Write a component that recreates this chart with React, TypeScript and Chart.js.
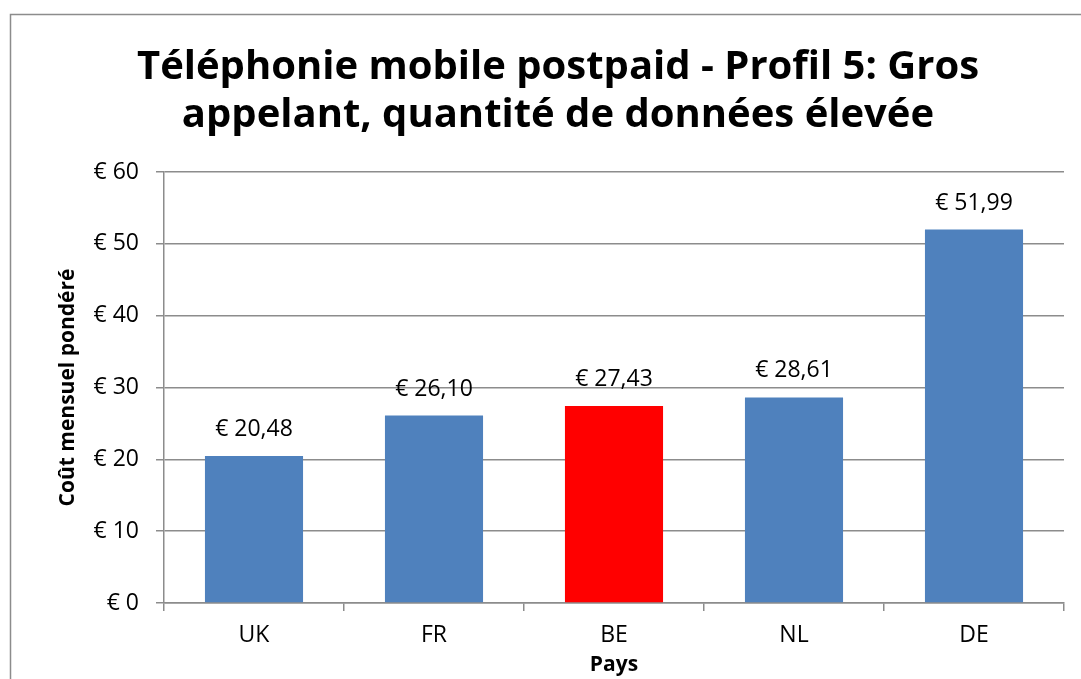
import React, { useEffect, useRef } from "react";
import { Chart, registerables } from "chart.js";

Chart.register(...registerables);

const categories = ["UK", "FR", "BE", "NL", "DE"];
const values = [20.48, 26.1, 27.43, 28.61, 51.99];
const barColors = ["#4F81BD", "#4F81BD", "#FF0000", "#4F81BD", "#4F81BD"];
const titleLines = [
  "Téléphonie mobile postpaid - Profil 5: Gros",
  "appelant, quantité de données élevée",
];
const yTitle = "Coût mensuel pondéré";
const xTitle = "Pays";

const FONT = "'Open Sans', 'Liberation Sans', sans-serif";

const fmt = (v: number) => "€ " + v.toFixed(2).replace(".", ",");

const decorPlugin = {
  id: "decor",
  beforeDraw(chart: any) {
    const ctx = chart.ctx;
    ctx.save();
    ctx.fillStyle = "#ffffff";
    ctx.fillRect(0, 0, chart.width, chart.height);
    ctx.strokeStyle = "#8c8c8c";
    ctx.lineWidth = 1.5;
    ctx.strokeRect(10.5, 14.5, 1200, 800);
    ctx.fillStyle = "#000000";
    ctx.font = `bold 40px ${FONT}`;
    ctx.textAlign = "center";
    ctx.textBaseline = "middle";
    ctx.fillText(titleLines[0], 558, 68);
    ctx.fillText(titleLines[1], 558, 116);
    ctx.restore();
  },
  afterDatasetsDraw(chart: any) {
    const ctx = chart.ctx;
    const meta = chart.getDatasetMeta(0);
    ctx.save();
    ctx.fillStyle = "#000000";
    ctx.font = `23px ${FONT}`;
    ctx.textAlign = "center";
    ctx.textBaseline = "alphabetic";
    meta.data.forEach((bar: any, i: number) => {
      ctx.fillText(fmt(values[i]), bar.x, bar.y - 20);
    });
    ctx.restore();
  },
};

export default function App() {
  const ref = useRef<HTMLCanvasElement>(null);
  useEffect(() => {
    if (!ref.current) return;
    const chart = new Chart(ref.current, {
      type: "bar",
      data: {
        labels: categories,
        datasets: [
          {
            data: values,
            backgroundColor: barColors,
            barPercentage: 0.545,
            categoryPercentage: 1,
          },
        ],
      },
      options: {
        animation: false,
        responsive: false,
        layout: { padding: { left: 55, right: 17, top: 172, bottom: 1 } },
        plugins: {
          legend: { display: false },
          title: { display: false },
          tooltip: { enabled: false },
        },
        scales: {
          x: {
            afterFit: (s: any) => {
              s.height = 75;
            },
            grid: {
              display: true,
              drawOnChartArea: false,
              drawTicks: true,
              tickLength: 8,
              color: "#8c8c8c",
              lineWidth: 1.5,
              offset: true,
            },
            border: { display: true, color: "#8c8c8c", width: 1.5 },
            ticks: {
              color: "#000",
              font: { family: FONT, size: 23 },
              padding: 11,
            },
            title: {
              display: true,
              text: xTitle,
              color: "#000",
              font: { family: FONT, size: 21, weight: "bold" },
              padding: 0,
            },
          },
          y: {
            min: 0,
            max: 60,
            afterFit: (s: any) => {
              s.width = 164 - 55;
            },
            ticks: {
              stepSize: 10,
              color: "#000",
              font: { family: FONT, size: 23 },
              padding: 17,
              callback: (v: any) => "€ " + v,
            },
            grid: {
              color: "#8c8c8c",
              lineWidth: 1.5,
              drawTicks: true,
              tickLength: 8,
            },
            border: { display: true, color: "#8c8c8c", width: 1.5 },
            title: {
              display: true,
              text: yTitle,
              color: "#000",
              font: { family: FONT, size: 21, weight: "bold" },
              padding: 0,
            },
          },
        },
      },
      plugins: [decorPlugin],
    });
    return () => chart.destroy();
  }, []);
  return (
    <div style={{ position: "fixed", left: 0, top: 0, width: 1081, height: 679, background: "#fff" }}>
      <canvas ref={ref} width={1081} height={679} style={{ display: "block" }} />
    </div>
  );
}
